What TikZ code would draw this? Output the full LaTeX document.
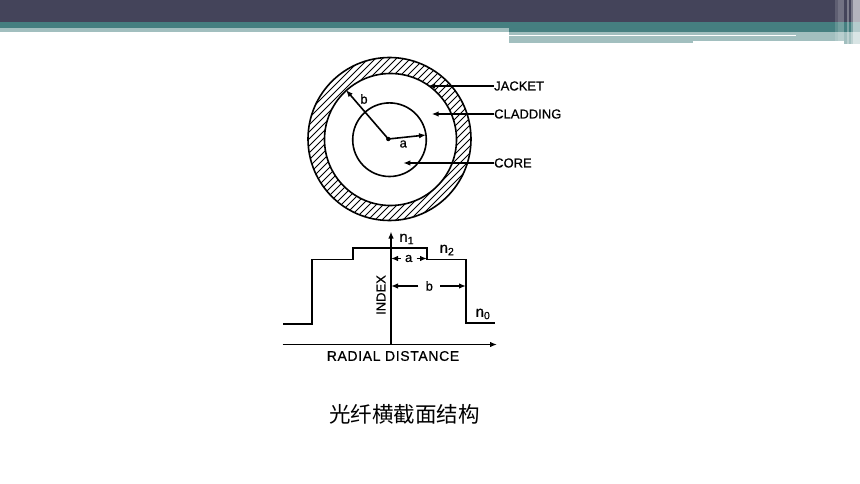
\documentclass[tikz,border=0pt]{standalone}
\usepackage{fontspec}
\setmainfont{Liberation Sans}[FakeBold=0.6]
\newfontfamily\cjk{Noto Sans CJK SC}
\newfontfamily\spaced{Liberation Sans}[FakeBold=0.6,LetterSpace=4.5]
\usetikzlibrary{arrows.meta}
\definecolor{barDark}{HTML}{44445A}
\definecolor{barTeal}{HTML}{457F80}
\definecolor{barLight}{HTML}{A2BFBF}
\newcommand\stripe[3]{
    \fill[white,opacity=#3] (#1,0) rectangle (#2,44);
}
\tikzset{
    inkline/.style={draw=black,line width=1.6pt},
    lbl/.style={font=\fontsize{13}{13}\selectfont,inner sep=0pt},
    sub/.style={font=\fontsize{15}{15}\selectfont,inner sep=0pt},
    gap/.style={lbl,inner sep=4pt},
    tip/.style={-{Latex[length=7pt,width=5.5pt]}},
}
\begin{document}
\begin{tikzpicture}[x=1pt,y=-1pt]
    \useasboundingbox (0,0) rectangle (860,484);
    % header
    \fill[barDark] (0,0) rectangle (860,22);
    \fill[barTeal] (0,22) rectangle (860,28);
    \fill[barLight] (0,28) rectangle (509,32);
    \fill[barTeal] (509,28) rectangle (860,32);
    \fill[barLight] (509,32) rectangle (860,35);
    \fill[barLight] (509,36.5) rectangle (693,43.5);
    \fill[barLight] (693,36.5) rectangle (844,41);
    \fill[white] (509,35) rectangle (796,36.5);
    \fill[barLight] (796,35) rectangle (860,41);
    \fill[barLight] (844,41) rectangle (860,44);
    \fill[barTeal] (59,25) rectangle (59.6,26.5);
    \stripe{835}{838}{0.15}
    \stripe{838}{844}{0.25}
    \stripe{847}{849}{0.3}
    \stripe{851}{853}{0.3}
    \stripe{853}{860}{0.6}
    % fibre cross section
    \begin{scope}[even odd rule]
        \clip (389.5,139) circle (81.5) (390.5,139.5) circle (66);
        \foreach \a in {0,...,34}
            \draw[line width=1pt] (188+\a*7,225) -- ++(180,-180);
    \end{scope}
    \draw[inkline] (389.5,139) circle (81.5);
    \draw[inkline] (390.5,139.5) circle (66);
    \draw[inkline] (389.5,139.7) circle (36.8);
    \fill (388.3,139) circle (2.2) coordinate (centre);
    \coordinate (bEnd) at (346,90);
    \coordinate (aEnd) at (426,135);
    \draw[inkline,tip] (centre) -- (bEnd);
    \draw[inkline,tip] (centre) -- (aEnd);
    \node[lbl] (bLabel) at (364,99) {b};
    \node[lbl] (aLabel) at (403.3,144) {a};
    \node[lbl,anchor=west] (jacket) at (494,86) {JACKET};
    \node[lbl,anchor=west] (cladding) at (494,114) {CLADDING};
    \node[lbl,anchor=west] (core) at (494,163) {CORE};
    \coordinate (jacketEnd) at (428,86);
    \coordinate (claddingEnd) at (431.7,114);
    \coordinate (coreEnd) at (403.3,163);
    \draw[inkline,tip] (jacket) -- (jacketEnd);
    \draw[inkline,tip] (cladding) -- (claddingEnd);
    \draw[inkline,tip] (core) -- (coreEnd);
    % index profile
    \coordinate (origin) at (391,344.5);
    \coordinate (yTop) at (391,231.5);
    \coordinate (xLeft) at (282.7,344.5);
    \coordinate (xRight) at (497,344.5);
    \draw[inkline,tip] (origin) -- (yTop);
    \draw[inkline,tip] (xLeft) -- (xRight);
    \draw[inkline] (283.3,323.7) -| (312,259.3) -| (353,248) -| (426.7,259.3) -| (466,322.7) -- (495,322.7);
    \node[sub] (nOne) at (406.7,239) {n\textsubscript{1}};
    \node[sub] (nTwo) at (447,250) {n\textsubscript{2}};
    \node[sub] (nZero) at (483,314) {n\textsubscript{0}};
    \node[gap] (aWidth) at (408.7,258.5) {a};
    \node[gap,inner sep=7pt] (bWidth) at (429.3,286) {b};
    \coordinate (aLeft) at (391,258.5);
    \coordinate (aRight) at (427,258.5);
    \coordinate (bLeft) at (391,286);
    \coordinate (bRight) at (466,286);
    \draw[inkline,tip] (aWidth) -- (aLeft);
    \draw[inkline,tip] (aWidth) -- (aRight);
    \draw[inkline,tip] (bWidth) -- (bLeft);
    \draw[inkline,tip] (bWidth) -- (bRight);
    \node[lbl,rotate=90] (index) at (381,295) {INDEX};
    \node[lbl,font=\spaced\fontsize{14}{14}\selectfont] (radial) at (393,356) {RADIAL DISTANCE};
    \node[inner sep=0pt,font=\cjk\fontsize{21.5}{21.5}\selectfont] (caption) at (404.5,414) {光纤横截面结构};
\end{tikzpicture}
\end{document}
